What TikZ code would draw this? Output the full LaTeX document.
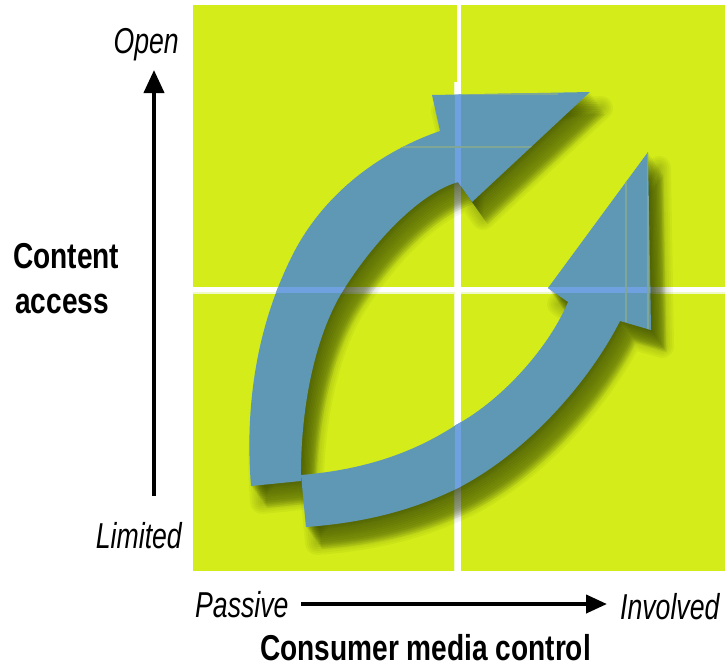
\documentclass[tikz,border=0pt]{standalone}
\usepackage{fontspec}
\setmainfont{Liberation Sans}
\usepackage{graphicx}
\usetikzlibrary{arrows.meta}
\definecolor{bg}{RGB}{211,236,26}
\definecolor{arrowc}{RGB}{94,152,180}
\definecolor{lineblue}{RGB}{111,160,224}
\definecolor{shadowc}{RGB}{40,56,0}
\definecolor{pale}{RGB}{240,250,200}
\definecolor{streak}{RGB}{128,166,150}
\newcommand\narrowit[1]{\scalebox{0.74}[1]{#1}}
\newcommand\narrowbf[1]{\scalebox{0.78}[1]{#1}}
\def\arrowA{(251,486) .. controls (245,410) and (255,330) .. (292,256) .. controls (325,190) and (385,150) .. (440,131) -- (432,95) -- (590,92) -- (472,202) -- (458,182) .. controls (420,193) and (375,240) .. (344,289) .. controls (318,330) and (300,400) .. (301,481) -- cycle}
\def\arrowB{(301,475) .. controls (360,470) and (410,455) .. (456,425) .. controls (505,398) and (550,345) .. (568,302) -- (548,288) -- (648,152) -- (651,330) -- (620,321) .. controls (590,380) and (530,450) .. (460,487) .. controls (410,512) and (360,523) .. (306,527) -- cycle}
\tikzset{
  itlab/.style={inner sep=0pt, font=\fontsize{36}{40}\selectfont\itshape},
  bdlab/.style={inner sep=0pt, font=\fontsize{36}{40}\selectfont\bfseries},
  axisline/.style={line width=4pt, -{Triangle[width=20pt,length=23pt]}},
  axislineh/.style={line width=4pt, -{Triangle[width=18pt,length=21pt]}},
  shadowstroke/.style={draw=shadowc, opacity=0.045, line join=round},
  shadowfill/.style={fill=shadowc, opacity=0.09},
}
\begin{document}
\begin{tikzpicture}[x=1pt,y=-1pt]
\useasboundingbox (0,0) rectangle (725,665);
% background
\fill[bg] (193,5) rectangle (725,571);
% white cross
\fill[pale] (454,82) rectangle (457,571);
\fill[pale] (193,292) rectangle (725,294);
\fill[white] (457,5) rectangle (461,571);
\fill[white] (455,82) rectangle (461,571);
\fill[white] (193,287) rectangle (725,292);
% shadows (soft, fading away from the arrows)
\foreach \k in {2,4,...,26}{
  \path[shadowfill, shift={(\k*0.6,\k*0.85)}] \arrowA;
  \path[shadowfill, shift={(\k*0.6,\k*0.85)}] \arrowB;
}
\foreach \w in {4,8,...,24}{
  \path[shadowstroke, line width=\w pt, shift={(11,16)}] \arrowA;
  \path[shadowstroke, line width=\w pt, shift={(11,16)}] \arrowB;
}
% arrows
\fill[arrowc] \arrowA;
\fill[arrowc] \arrowB;
\begin{scope}
  \clip \arrowA;
  \fill[lineblue] (455,0) rectangle (461,665);
  \fill[lineblue] (193,287) rectangle (725,293);
  \draw[streak, line width=1.5pt] (390,147) -- (540,147);
  \draw[streak, line width=1.5pt] (468,94) -- (558,94);
\end{scope}
\begin{scope}
  \clip \arrowB;
  \fill[lineblue] (455,0) rectangle (461,665);
  \fill[lineblue] (193,287) rectangle (725,293);
  \draw[streak, line width=1.5pt] (626,175) -- (626,322);
  \draw[streak, line width=1.5pt] (648,150) -- (648,330);
\end{scope}
% axes
\coordinate (vbot) at (154,496);
\coordinate (vtop) at (154,70);
\draw[axisline] (vbot) -- (vtop);
\coordinate (hleft) at (301,604);
\coordinate (hright) at (607,604);
\draw[axislineh] (hleft) -- (hright);
% labels
\node[itlab, anchor=base east] (open) at (179,53) {\narrowit{Open}};
\node[itlab, anchor=base east] (limited) at (182,548) {\narrowit{Limited}};
\node[itlab, anchor=base west] (passive) at (195,617) {\narrowit{Passive}};
\node[itlab, anchor=base west] (involved) at (620,619) {\narrowit{Involved}};
\node[bdlab, anchor=base west] (content) at (13,268) {\narrowbf{Content}};
\node[bdlab, anchor=base west] (access) at (15,313) {\narrowbf{access}};
\node[bdlab, anchor=base west] (cmc) at (260,660) {\narrowbf{Consumer media control}};
\end{tikzpicture}
\end{document}
